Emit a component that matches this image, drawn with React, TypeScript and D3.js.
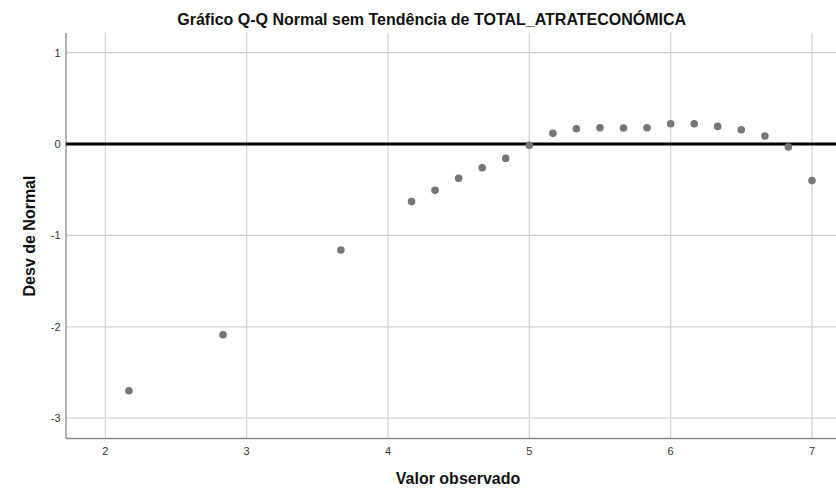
import React from "react";
import * as d3 from "d3";

const observed: number[] = [2.167, 2.833, 3.667, 4.167, 4.333, 4.5, 4.667, 4.833, 5.0, 5.167, 5.333, 5.5, 5.667, 5.833, 6.0, 6.167, 6.333, 6.5, 6.667, 6.833, 7.0];
const deviation: number[] = [-2.70, -2.086, -1.16, -0.63, -0.507, -0.375, -0.259, -0.157, -0.014, 0.117, 0.168, 0.178, 0.175, 0.178, 0.222, 0.222, 0.193, 0.157, 0.088, -0.033, -0.40];
const xTicks: number[] = [2, 3, 4, 5, 6, 7];
const yTicks: number[] = [1, 0, -1, -2, -3];

const W = 836;
const H = 489;
const left = 66;
const right = 836;
const top = 33;
const bottom = 438.5;

export default function App() {
  const x = d3.scaleLinear().domain([1.722, 7.17]).range([left, right]);
  const y = d3.scaleLinear().domain([-3.222, 1.215]).range([bottom, top]);
  const font = "'Liberation Sans', Arial, sans-serif";
  return (
    <svg width={W} height={H} style={{ position: "absolute", left: 0, top: 0, background: "#fff" }} fontFamily={font}>
      <rect x={0} y={0} width={W} height={H} fill="#fff" />
      {xTicks.map((t) => (
        <line key={"gx" + t} x1={x(t)} x2={x(t)} y1={top} y2={bottom} stroke="#d0d0d0" strokeWidth={1.2} />
      ))}
      {yTicks.map((t) => (
        <line key={"gy" + t} x1={left} x2={right} y1={y(t)} y2={y(t)} stroke="#d0d0d0" strokeWidth={1.2} />
      ))}
      <line x1={left} x2={left} y1={top} y2={bottom} stroke="#8a8a8a" strokeWidth={1.3} />
      <line x1={left} x2={right} y1={bottom} y2={bottom} stroke="#8a8a8a" strokeWidth={1.3} />
      <line x1={left} x2={right} y1={y(0)} y2={y(0)} stroke="#000" strokeWidth={3} />
      {xTicks.map((t) => (
        <text key={"tx" + t} x={x(t)} y={455} textAnchor="middle" fontSize={11} fill="#333">{t}</text>
      ))}
      {yTicks.map((t) => (
        <text key={"ty" + t} x={60.5} y={y(t) + 4} textAnchor="end" fontSize={11} fill="#333">{t}</text>
      ))}
      {observed.map((v, i) => (
        <circle key={"p" + i} cx={x(v)} cy={y(deviation[i])} r={3.8} fill="#767676" />
      ))}
      <text x={431.7} y={25} textAnchor="middle" fontSize={16} fontWeight="bold" fill="#111">Gráfico Q-Q Normal sem Tendência de TOTAL_ATRATECONÓMICA</text>
      <text x={458} y={484} textAnchor="middle" fontSize={16} fontWeight="bold" fill="#111">Valor observado</text>
      <text transform={`translate(34.5, 236) rotate(-90)`} textAnchor="middle" fontSize={16} fontWeight="bold" fill="#111">Desv de Normal</text>
    </svg>
  );
}
